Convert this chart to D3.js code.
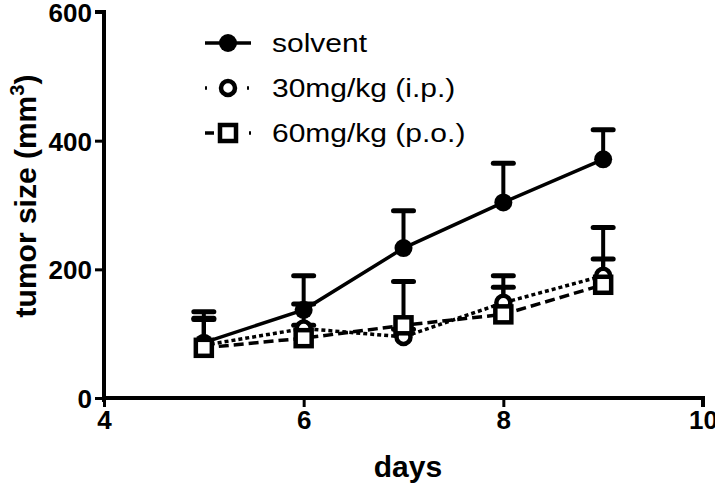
<!DOCTYPE html>
<html>
<head>
<meta charset="utf-8">
<script src="https://cdn.jsdelivr.net/npm/d3@7"></script>
<style>
  body { margin: 0; background: #fff; }
  svg { display: block; font-family: "Liberation Sans", Arial, sans-serif; }
</style>
</head>
<body>
<svg id="chart" width="715" height="490"></svg>
<script>
// days of measurement
const days = [5, 6, 7, 8, 9];
const xTicks = [4, 6, 8, 10];
const yTicks = [0, 200, 400, 600];

// tumor size mean and upper error (SEM)
const solvent = [86, 137, 233, 304, 371];
const solventErr = [48, 53, 58, 61, 46];
const mg30 = [82, 108, 95, 148, 190];
const mg30Err = [40, 38, 12, 42, 75];
const mg60 = [78, 93, 113, 130, 176];
const mg60Err = [46, 20, 68, 42, 40];

const seriesNames = ["solvent", "30mg/kg (i.p.)", "60mg/kg (p.o.)"];

const svg = d3.select("#chart");
const x = d3.scaleLinear().domain([4, 10]).range([104, 703]);
const y = d3.scaleLinear().domain([0, 600]).range([398, 12]);

const series = [
    { name: seriesNames[0], values: solvent, err: solventErr, dash: null, marker: "filled" },
    { name: seriesNames[1], values: mg30, err: mg30Err, dash: "4,3", marker: "open" },
    { name: seriesNames[2], values: mg60, err: mg60Err, dash: "10,5", marker: "square" }
];

// axes
const yAxis = svg.append("g")
    .attr("transform", "translate(104,0)")
    .call(d3.axisLeft(y).tickValues(yTicks).tickFormat(d3.format("d")).tickSize(9).tickPadding(3));
const xAxis = svg.append("g")
    .attr("transform", "translate(0,398)")
    .call(d3.axisBottom(x).tickValues(xTicks).tickFormat(d3.format("d")).tickSize(9).tickPadding(4));

[yAxis, xAxis].forEach(a => {
    a.select(".domain").attr("stroke", "#000").attr("stroke-width", 4);
    a.selectAll(".tick line").attr("stroke", "#000").attr("stroke-width", 3);
    a.selectAll(".tick text")
        .attr("fill", "#000")
        .attr("font-size", 26)
        .attr("font-weight", "bold")
        .attr("font-family", "Liberation Sans, Arial, sans-serif");
});
yAxis.select(".domain").attr("d", "M-9,12H0V402");
xAxis.select(".domain").attr("d", "M104,0H703V9");
yAxis.selectAll(".tick text").attr("dy", "0.36em");

// axis titles
svg.append("text")
    .attr("transform", "translate(36,196) rotate(-90)")
    .attr("text-anchor", "middle")
    .attr("font-size", 30)
    .attr("font-weight", "bold")
    .text("tumor size (mm")
    .append("tspan").attr("font-size", 20).attr("dy", -12).text("3")
    .select(function () { return this.parentNode; })
    .append("tspan").attr("dy", 12).text(")");

svg.append("text")
    .attr("x", 408)
    .attr("y", 477)
    .attr("text-anchor", "middle")
    .attr("font-size", 30)
    .attr("font-weight", "bold")
    .text("days");

const line = d3.line().x((d, i) => x(days[i])).y(d => y(d));

// connecting lines
series.forEach(s => {
    svg.append("path")
        .datum(s.values)
        .attr("d", line)
        .attr("fill", "none")
        .attr("stroke", "#000")
        .attr("stroke-width", 3.5)
        .attr("stroke-dasharray", s.dash);
});

// error bars (upper only)
series.forEach(s => {
    const g = svg.append("g");
    s.values.forEach((v, i) => {
        const cx = x(days[i]);
        const top = y(v + s.err[i]);
        g.append("line")
            .attr("x1", cx).attr("x2", cx)
            .attr("y1", y(v)).attr("y2", top)
            .attr("stroke", "#000").attr("stroke-width", 4);
        g.append("line")
            .attr("x1", cx - 10).attr("x2", cx + 10)
            .attr("y1", top).attr("y2", top)
            .attr("stroke", "#000").attr("stroke-width", 5)
            .attr("stroke-linecap", "round");
    });
});

function drawMarker(g, type, cx, cy) {
    if (type === "filled") {
        g.append("circle").attr("cx", cx).attr("cy", cy).attr("r", 9).attr("fill", "#000");
    } else if (type === "open") {
        g.append("circle").attr("cx", cx).attr("cy", cy).attr("r", 7)
            .attr("fill", "#fff").attr("stroke", "#000").attr("stroke-width", 4.5);
    } else {
        g.append("rect").attr("x", cx - 8).attr("y", cy - 8).attr("width", 16).attr("height", 16)
            .attr("fill", "#fff").attr("stroke", "#000").attr("stroke-width", 4.5);
    }
}

// markers
series.forEach(s => {
    const g = svg.append("g");
    s.values.forEach((v, i) => drawMarker(g, s.marker, x(days[i]), y(v)));
});

// legend
const legend = svg.append("g");
series.forEach((s, i) => {
    const ly = 43 + i * 45;
    legend.append("line")
        .attr("x1", 205).attr("x2", 251)
        .attr("y1", ly).attr("y2", ly)
        .attr("stroke", "#000").attr("stroke-width", 3.5)
        .attr("stroke-dasharray", s.marker === "open" ? "2,19" : (s.dash ? "9,13" : null));
    drawMarker(legend, s.marker, 228, ly);
    legend.append("text")
        .attr("x", 272)
        .attr("y", ly + 9)
        .attr("font-size", 25)
        .attr("transform", `translate(272,0) scale(1.2,1) translate(-272,0)`)
        .text(s.name);
});
</script>
</body>
</html>
